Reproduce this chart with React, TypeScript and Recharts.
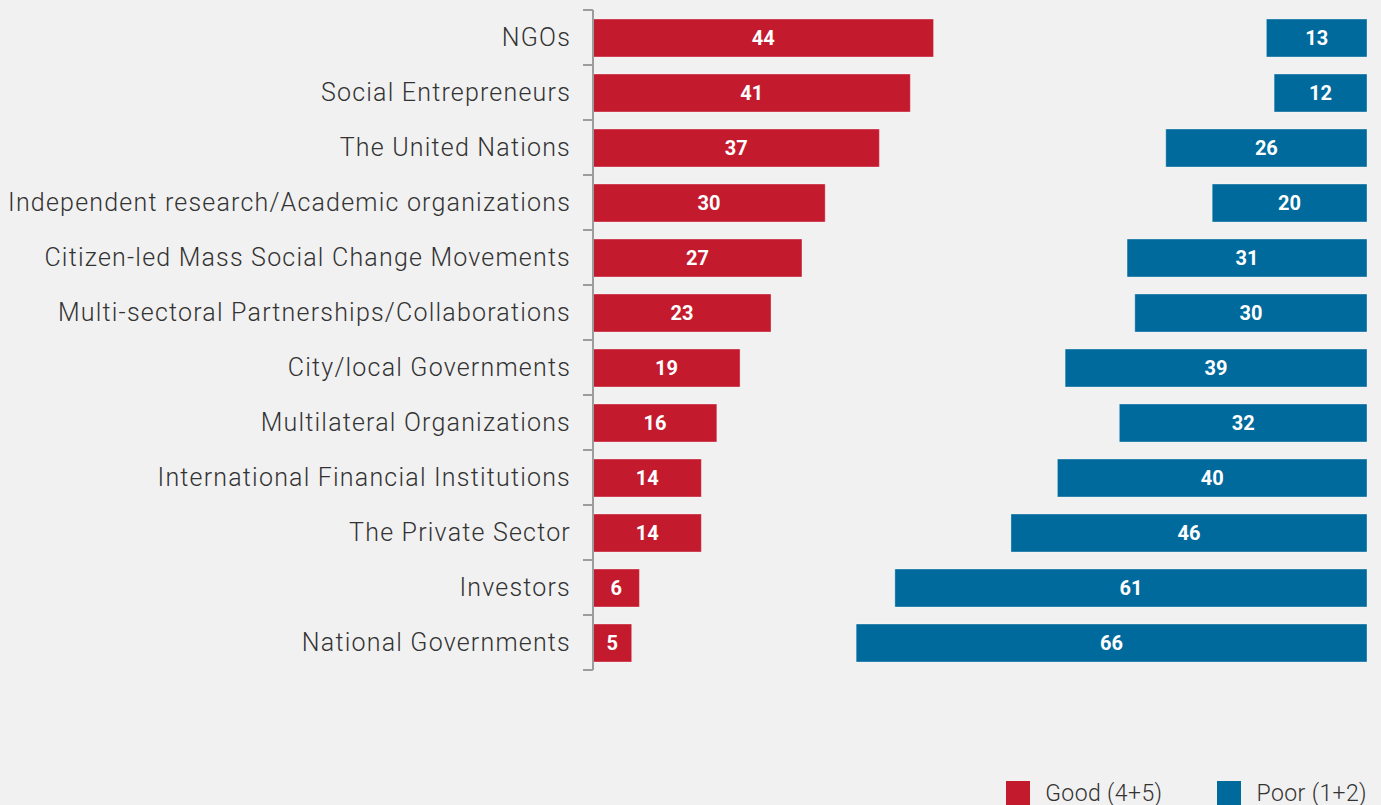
import { BarChart, Bar, XAxis, YAxis, Legend, LabelList } from 'recharts'

// Good vs poor ratings per actor: good bars grow from the axis, poor bars
// are pinned to the right edge. A transparent spacer fills the gap so both
// share a 0-100 stacked scale.

const categories = [
  'NGOs',
  'Social Entrepreneurs',
  'The United Nations',
  'Independent research/Academic organizations',
  'Citizen-led Mass Social Change Movements',
  'Multi-sectoral Partnerships/Collaborations',
  'City/local Governments',
  'Multilateral Organizations',
  'International Financial Institutions',
  'The Private Sector',
  'Investors',
  'National Governments',
]
const good = [44, 41, 37, 30, 27, 23, 19, 16, 14, 14, 6, 5]
const poor = [13, 12, 26, 20, 31, 30, 39, 32, 40, 46, 61, 66]

const RED = '#c41a2e'
const BLUE = '#006a9c'
const BG = '#f1f1f1'
const AXIS = '#9c9c9c'

const W = 1381
const H = 805
const MARGIN = { top: 10, right: 14, bottom: 111, left: 0 }
const LEGEND_H = 24
const PLOT_H = H - MARGIN.top - MARGIN.bottom - LEGEND_H
const BAND = PLOT_H / categories.length
const TICK_SIZE = 10
const TICK_MARGIN = 12

const data = categories.map((name, i) => ({
  name,
  good: good[i],
  gap: 100 - good[i] - poor[i],
  poor: poor[i],
}))

function CategoryTick(props: any) {
  const { x, y, payload, index } = props
  const axisX = x + TICK_MARGIN + TICK_SIZE
  const top = y - BAND / 2
  const last = index === categories.length - 1
  return (
    <g>
      <line x1={axisX - TICK_SIZE} x2={axisX} y1={top} y2={top} stroke={AXIS} strokeWidth={2} />
      {last && (
        <line x1={axisX - TICK_SIZE} x2={axisX} y1={top + BAND} y2={top + BAND} stroke={AXIS} strokeWidth={2} />
      )}
      <text x={x} y={y} dy="0.33em" textAnchor="end" fill="#333" fontSize={25} fontWeight={300} fontFamily="Roboto" letterSpacing={1.2}>
        {payload.value}
      </text>
    </g>
  )
}

function LegendContent(props: any) {
  const items = (props.payload || []).filter((p: any) => p.type !== 'none')
  return (
    <div style={{ display: 'flex', height: LEGEND_H, alignItems: 'center', fontFamily: 'Roboto', fontWeight: 300, fontSize: 23, letterSpacing: 0.4, color: '#333' }}>
      {items.map((p: any, i: number) => (
        <div key={p.value} style={{ display: 'flex', alignItems: 'center', marginLeft: i ? 55 : 0 }}>
          <span style={{ width: 24, height: 24, background: p.color, marginRight: 15, display: 'inline-block' }} />
          <span>{p.value}</span>
        </div>
      ))}
    </div>
  )
}

export default function App() {
  return (
    <div style={{ position: 'absolute', left: 0, top: 0, width: W, height: H, background: BG, overflow: 'hidden' }}>
      <BarChart width={W} height={H} data={data} layout="vertical" margin={MARGIN} barSize={38}>
        <XAxis type="number" domain={[0, 100]} hide />
        <YAxis
          type="category"
          dataKey="name"
          width={593}
          tickSize={TICK_SIZE}
          tickMargin={TICK_MARGIN}
          tickLine={false}
          axisLine={{ stroke: AXIS, strokeWidth: 2 }}
          tick={<CategoryTick />}
          interval={0}
        />
        <Legend
          verticalAlign="bottom"
          align="right"
          height={LEGEND_H}
          content={<LegendContent />}
          wrapperStyle={{ bottom: 0, right: 14, left: 'auto', width: 'auto' }}
        />
        <Bar dataKey="good" name="Good (4+5)" stackId="a" fill={RED} stroke="#fff" strokeOpacity={0.35} isAnimationActive={false}>
          <LabelList dataKey="good" position="center" fill="#fff" fontSize={20} fontWeight={700} fontFamily="Roboto" />
        </Bar>
        <Bar dataKey="gap" stackId="a" fill="transparent" legendType="none" isAnimationActive={false} />
        <Bar dataKey="poor" name="Poor (1+2)" stackId="a" fill={BLUE} stroke="#fff" strokeOpacity={0.35} isAnimationActive={false}>
          <LabelList dataKey="poor" position="center" fill="#fff" fontSize={20} fontWeight={700} fontFamily="Roboto" />
        </Bar>
      </BarChart>
    </div>
  )
}
